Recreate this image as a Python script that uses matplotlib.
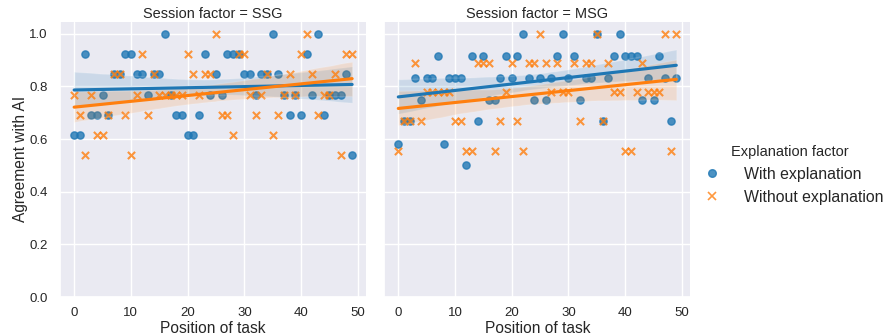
import numpy as np
import pandas as pd
import seaborn as sns
from matplotlib import pyplot as plt
from matplotlib.lines import Line2D

# posição da tarefa (0..49) em cada sessão
posicoes = list(range(50))

# SSG - concordância com a IA
ssg_com = [0.615, 0.615, 0.923, 0.692, 0.692, 0.769, 0.692, 0.846, 0.846, 0.923,
           0.923, 0.846, 0.846, 0.769, 0.846, 0.846, 1.0, 0.769, 0.692, 0.692,
           0.615, 0.615, 0.692, 0.923, 0.769, 0.846, 0.769, 0.923, 0.923, 0.923,
           0.846, 0.846, 0.769, 0.846, 0.846, 1.0, 0.846, 0.769, 0.692, 0.769,
           0.692, 0.923, 0.769, 1.0, 0.692, 0.769, 0.769, 0.769, 0.846, 0.538]
ssg_sem = [0.769, 0.692, 0.538, 0.769, 0.615, 0.615, 0.692, 0.846, 0.846, 0.692,
           0.538, 0.769, 0.923, 0.692, 0.846, 0.769, 0.769, 0.769, 0.769, 0.769,
           0.923, 0.846, 0.769, 0.846, 0.846, 1.0, 0.692, 0.692, 0.615, 0.923,
           0.923, 0.769, 0.692, 0.769, 0.846, 0.615, 0.692, 0.769, 0.846, 0.769,
           0.923, 1.0, 0.846, 0.692, 0.769, 0.769, 0.846, 0.538, 0.923, 0.923]

# MSG
msg_com = [0.583, 0.667, 0.667, 0.833, 0.75, 0.833, 0.833, 0.917, 0.583, 0.833,
           0.833, 0.833, 0.5, 0.917, 0.667, 0.917, 0.75, 0.75, 0.833, 0.917,
           0.833, 0.917, 1.0, 0.833, 0.75, 0.833, 0.75, 0.833, 0.917, 1.0,
           0.833, 0.917, 0.75, 0.833, 0.833, 1.0, 0.667, 0.833, 0.917, 1.0,
           0.917, 0.917, 0.917, 0.75, 0.833, 0.75, 0.917, 0.833, 0.667, 0.833]
msg_sem = [0.556, 0.667, 0.667, 0.889, 0.667, 0.778, 0.778, 0.778, 0.778, 0.778,
           0.667, 0.667, 0.556, 0.556, 0.889, 0.889, 0.889, 0.556, 0.667, 0.778,
           0.889, 0.667, 0.556, 0.889, 0.889, 1.0, 0.889, 0.778, 0.889, 0.778,
           0.778, 0.889, 0.667, 0.889, 0.889, 1.0, 0.667, 0.889, 0.778, 0.778,
           0.556, 0.556, 0.778, 0.889, 0.778, 0.778, 0.778, 1.0, 0.556, 1.0]

sessoes = ["SSG", "MSG"]
explicacoes = ["With explanation", "Without explanation"]

linhas = []
for sessao, com, sem in [("SSG", ssg_com, ssg_sem), ("MSG", msg_com, msg_sem)]:
    for p, v in zip(posicoes, com):
        linhas.append((p, v, sessao, explicacoes[0]))
    for p, v in zip(posicoes, sem):
        linhas.append((p, v, sessao, explicacoes[1]))
df = pd.DataFrame(linhas, columns=["Position of task", "Agreement with AI",
                                   "Session factor", "Explanation factor"])

sns.set_theme(style="darkgrid", palette="tab10", font_scale=0.87)
plt.rcParams['font.family'] = ['Liberation Sans', 'DejaVu Sans']
plt.rcParams['axes.labelsize'] = 11.2
plt.rcParams['xtick.major.pad'] = 1.5
plt.rcParams['ytick.major.pad'] = 3
plt.rcParams['axes.labelpad'] = 1.2
plt.rcParams['axes.titlepad'] = 3

g = sns.lmplot(data=df, x="Position of task", y="Agreement with AI",
               col="Session factor", hue="Explanation factor",
               col_order=sessoes, hue_order=explicacoes, markers=["o", "x"],
               legend=False, seed=0, scatter_kws={"s": 27})
g.set_titles(size=10.45)

fig = g.figure
fig.set_size_inches(8.86, 3.36)
fig.subplots_adjust(left=0.068, right=0.779, top=0.935, bottom=0.116, wspace=0.06)
for ax in g.axes.flat:
    ax.set_ylim(0, 1.045)
    ax.set_xlim(-2.45, 51.45)

cores = sns.color_palette("tab10")[:2]
handles = [Line2D([], [], marker="o", ls="", color=cores[0], alpha=0.8, markersize=5.5),
           Line2D([], [], marker="x", ls="", color=cores[1], alpha=0.8, markersize=5.5,
                  markeredgewidth=1.2)]
fig.legend(handles, explicacoes, title="Explanation factor", loc="center left",
           bbox_to_anchor=(0.770, 0.48), frameon=False, fontsize=11.4,
           title_fontsize=10.5, handletextpad=1.0)

plt.savefig("out.png", dpi=100)
